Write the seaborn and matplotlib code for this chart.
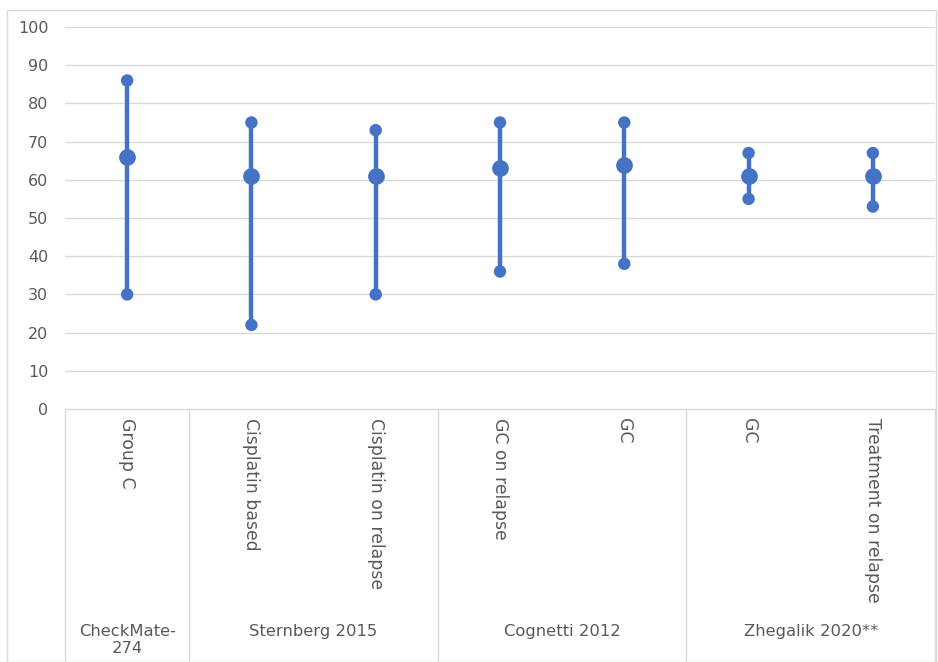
import pandas as pd
import matplotlib.pyplot as plt
import seaborn as sns
from matplotlib.patches import Rectangle

# categories (sub-label, study group)
labels = ['Group C', 'Cisplatin based', 'Cisplatin on relapse', 'GC on relapse',
          'GC', 'GC', 'Treatment on relapse']
studies = ['CheckMate-\n274', 'Sternberg 2015', 'Cognetti 2012', 'Zhegalik 2020**']
study_sizes = [1, 2, 2, 2]

highs = [86, 75, 73, 75, 75, 67, 67]
mids = [66, 61, 61, 63, 64, 61, 61]
lows = [30, 22, 30, 36, 38, 55, 53]

blue = '#4472C4'
grid = '#d9d9d9'
txt = '#595959'

ids = [f'c{i}' for i in range(len(labels))]
rows = []
for i, c in enumerate(ids):
    for kind, v in (('low', lows[i]), ('mid', mids[i]), ('high', highs[i])):
        rows.append({'cat': c, 'kind': kind, 'value': v})
df = pd.DataFrame(rows)

sns.set_style('white')
plt.rcParams['font.family'] = ['DejaVu Sans']

W, H = 938, 662
fig = plt.figure(figsize=(W / 100, H / 100), dpi=100)
fig.patches.append(Rectangle((7 / W, 0), 929 / W, 652 / H, transform=fig.transFigure,
                             fill=False, edgecolor='#d9d9d9', lw=1))

x0, x1 = 65, 935
y0, y100 = 409, 27
ax = fig.add_axes([x0 / W, 1 - y0 / H, (x1 - x0) / W, (y0 - y100) / H])

# median with min-max range
sns.pointplot(data=df, x='cat', y='value', order=ids, estimator='median',
              errorbar=('pi', 100), color=blue, linestyle='none', markers='o',
              markersize=10, err_kws={'linewidth': 3.2}, ax=ax)
ends = df[df['kind'] != 'mid']
sns.scatterplot(data=ends, x='cat', y='value', color=blue, s=80, edgecolor='none',
                zorder=5, ax=ax)

ax.set_xlim(-0.5, len(ids) - 0.5)
ax.set_ylim(0, 100)
ax.set_yticks(range(0, 101, 10))
ax.tick_params(axis='y', labelsize=11.5, labelcolor=txt, length=0, pad=12)
ax.set_xticks([])
ax.set_xlabel('')
ax.set_ylabel('')
ax.grid(axis='y', color=grid, lw=1)
ax.set_axisbelow(True)
for s in ax.spines.values():
    s.set_visible(False)

# category label area
lab = fig.add_axes([x0 / W, 0, (x1 - x0) / W, (H - y0) / H])
lab.set_xlim(-0.5, len(ids) - 0.5)
lab.set_ylim(H - y0, 0)
lab.axis('off')
lab.axhline(0, color=grid, lw=1)
bounds = [-0.5]
for n in study_sizes:
    bounds.append(bounds[-1] + n)
for b in bounds:
    lab.plot([b, b], [0, H - y0], color=grid, lw=1, clip_on=False)
for i, t in enumerate(labels):
    lab.text(i, 9, t, rotation=270, ha='center', va='top', fontsize=12.4, color=txt)
for k, s in enumerate(studies):
    lab.text((bounds[k] + bounds[k + 1]) / 2, 215, s, ha='center', va='top',
             fontsize=11.8, color=txt, linespacing=1.2)

fig.savefig('out.png', dpi=100)
